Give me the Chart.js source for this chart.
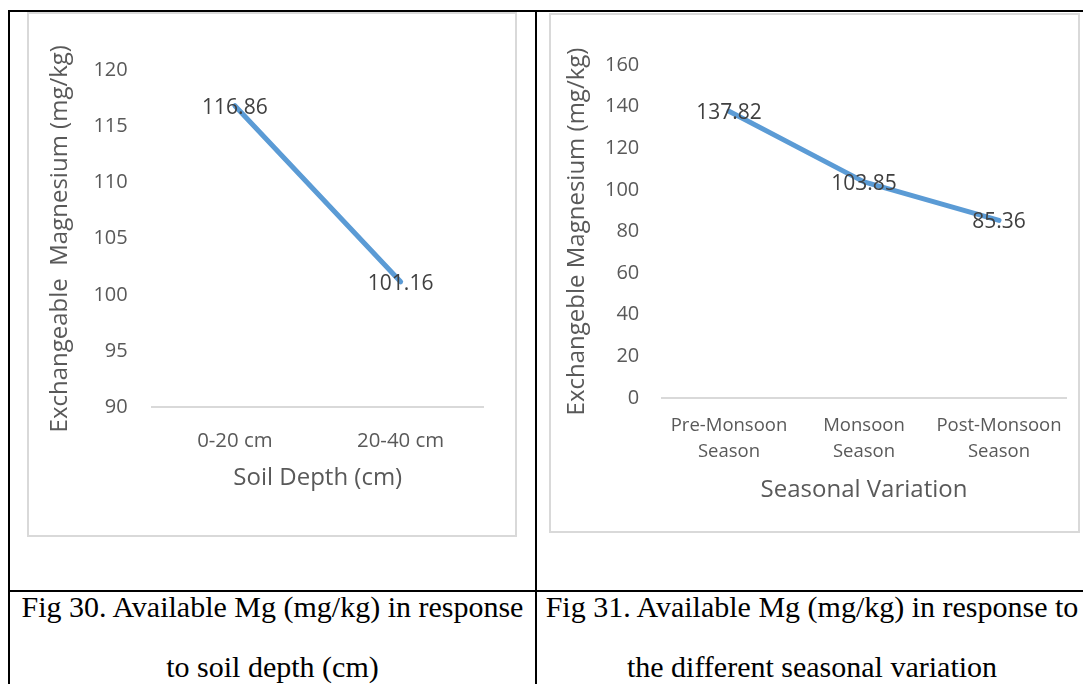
<!DOCTYPE html>
<html>
<head>
<meta charset="utf-8">
<script src="https://cdn.jsdelivr.net/npm/chart.js@4.4.1/dist/chart.umd.min.js"></script>
<style>
  html, body { margin: 0; padding: 0; background: #fff; }
  body { position: relative; width: 1083px; height: 684px; overflow: hidden; }
  .rule { position: absolute; background: #000; }
  .frame { position: absolute; border: 2px solid #d9d9d9; box-sizing: border-box; pointer-events: none; }
  canvas { position: absolute; }
  .cap { position: absolute; font-family: "Liberation Serif", "Times New Roman", serif; font-size: 30px;
         line-height: 30px; color: #000; text-align: center; white-space: nowrap; }
</style>
</head>
<body>
<!-- table rules -->
<div class="rule" style="left:8px;top:10px;width:1075px;height:2px"></div>
<div class="rule" style="left:8px;top:590px;width:1075px;height:2px"></div>
<div class="rule" style="left:8px;top:10px;width:2px;height:674px"></div>
<div class="rule" style="left:535px;top:10px;width:2px;height:674px"></div>

<canvas id="depthChart" width="490" height="525" style="left:27px;top:12px;width:490px;height:525px"></canvas>
<div class="frame" style="left:27px;top:12px;width:490px;height:525px"></div>

<canvas id="seasonChart" width="531" height="520" style="left:549px;top:13px;width:531px;height:520px"></canvas>
<div class="frame" style="left:549px;top:13px;width:531px;height:520px"></div>

<div class="cap" style="left:10px;top:592px;width:525px">Fig 30. Available Mg (mg/kg) in response</div>
<div class="cap" style="left:10px;top:652px;width:525px">to soil depth (cm)</div>
<div class="cap" style="left:537px;top:592px;width:550px">Fig 31. Available Mg (mg/kg) in response to</div>
<div class="cap" style="left:537px;top:652px;width:550px">the different seasonal variation</div>

<script>
// Soil depth series
const depthLabels = ['0-20 cm', '20-40 cm'];
const depthMg = [116.86, 101.16];
const depthTicks = [90, 95, 100, 105, 110, 115, 120];

// Seasonal series
const seasonLabels = [['Pre-Monsoon', 'Season'], ['Monsoon', 'Season'], ['Post-Monsoon', 'Season']];
const seasonMg = [137.82, 103.85, 85.36];
const seasonTicks = [0, 20, 40, 60, 80, 100, 120, 140, 160];

const FONT = "'Open Sans', 'Noto Sans', sans-serif";
const GREY = '#595959';
const LINE = '#5B9BD5';

// Writes each point's value centred on the point
const valueLabels = {
  id: 'valueLabels',
  afterDatasetsDraw(chart) {
    const ctx = chart.ctx;
    ctx.save();
    ctx.font = '21px ' + FONT;
    ctx.fillStyle = '#404040';
    ctx.textAlign = 'center';
    ctx.textBaseline = 'middle';
    chart.data.datasets.forEach((ds, i) => {
      chart.getDatasetMeta(i).data.forEach((pt, j) => {
        ctx.fillText(ds.data[j].toFixed(2), pt.x, pt.y + 2);
      });
    });
    ctx.restore();
  }
};

function build(id, labels, values, ticks, g) {
  return new Chart(document.getElementById(id), {
    type: 'line',
    data: {
      labels: labels,
      datasets: [{
        data: values,
        borderColor: LINE,
        borderWidth: 5,
        borderCapStyle: 'round',
        borderJoinStyle: 'round',
        pointRadius: 0,
        pointHoverRadius: 0,
        tension: 0,
        fill: false
      }]
    },
    options: {
      responsive: false,
      animation: false,
      devicePixelRatio: 1,
      events: [],
      layout: { padding: { left: 0, top: g.top, right: g.right, bottom: 0 } },
      plugins: { legend: { display: false }, tooltip: { enabled: false } },
      scales: {
        x: {
          type: 'category',
          offset: true,
          grid: { display: false, drawTicks: false },
          border: { display: true, color: '#d9d9d9', width: 2 },
          ticks: { color: GREY, font: { family: FONT, size: g.xTickSize, lineHeight: g.xTickLH },
                   padding: g.xTickPad, maxRotation: 0, autoSkip: false },
          title: { display: true, text: g.xTitle, color: GREY,
                   font: { family: FONT, size: 24, lineHeight: 1.2 },
                   padding: { top: 0, bottom: g.xTitlePad } },
          afterFit: s => { s.height = g.xHeight; }
        },
        y: {
          min: ticks[0],
          max: ticks[ticks.length - 1],
          afterBuildTicks: s => { s.ticks = ticks.map(v => ({ value: v })); },
          grid: { display: false, drawTicks: false },
          border: { display: false },
          ticks: { color: GREY, font: { family: FONT, size: 20 }, padding: g.yTickPad },
          title: { display: true, text: g.yTitle, color: GREY,
                   font: { family: FONT, size: 24, lineHeight: 1.2 },
                   padding: { top: g.yTitlePad, bottom: 0 } },
          afterFit: s => { s.width = g.yWidth; }
        }
      }
    },
    plugins: [valueLabels]
  });
}

build('depthChart', depthLabels, depthMg, depthTicks, {
  top: 58.5, right: 33.5, yWidth: 125, xHeight: 130,
  xTickSize: 20.4, xTickLH: 1.2, xTickPad: 21.6, xTitlePad: 44.6,
  yTickPad: 24.3, yTitlePad: 19.1,
  xTitle: 'Soil Depth (cm)', yTitle: 'Exchangeable  Magnesium (mg/kg)'
});

build('seasonChart', seasonLabels, seasonMg, seasonTicks, {
  top: 52, right: 13.5, yWidth: 112.5, xHeight: 135,
  xTickSize: 18.5, xTickLH: 1.4, xTickPad: 14.9, xTitlePad: 28.6,
  yTickPad: 22.2, yTitlePad: 13.6,
  xTitle: 'Seasonal Variation', yTitle: 'Exchangeble Magnesium (mg/kg)'
});
</script>
</body>
</html>
